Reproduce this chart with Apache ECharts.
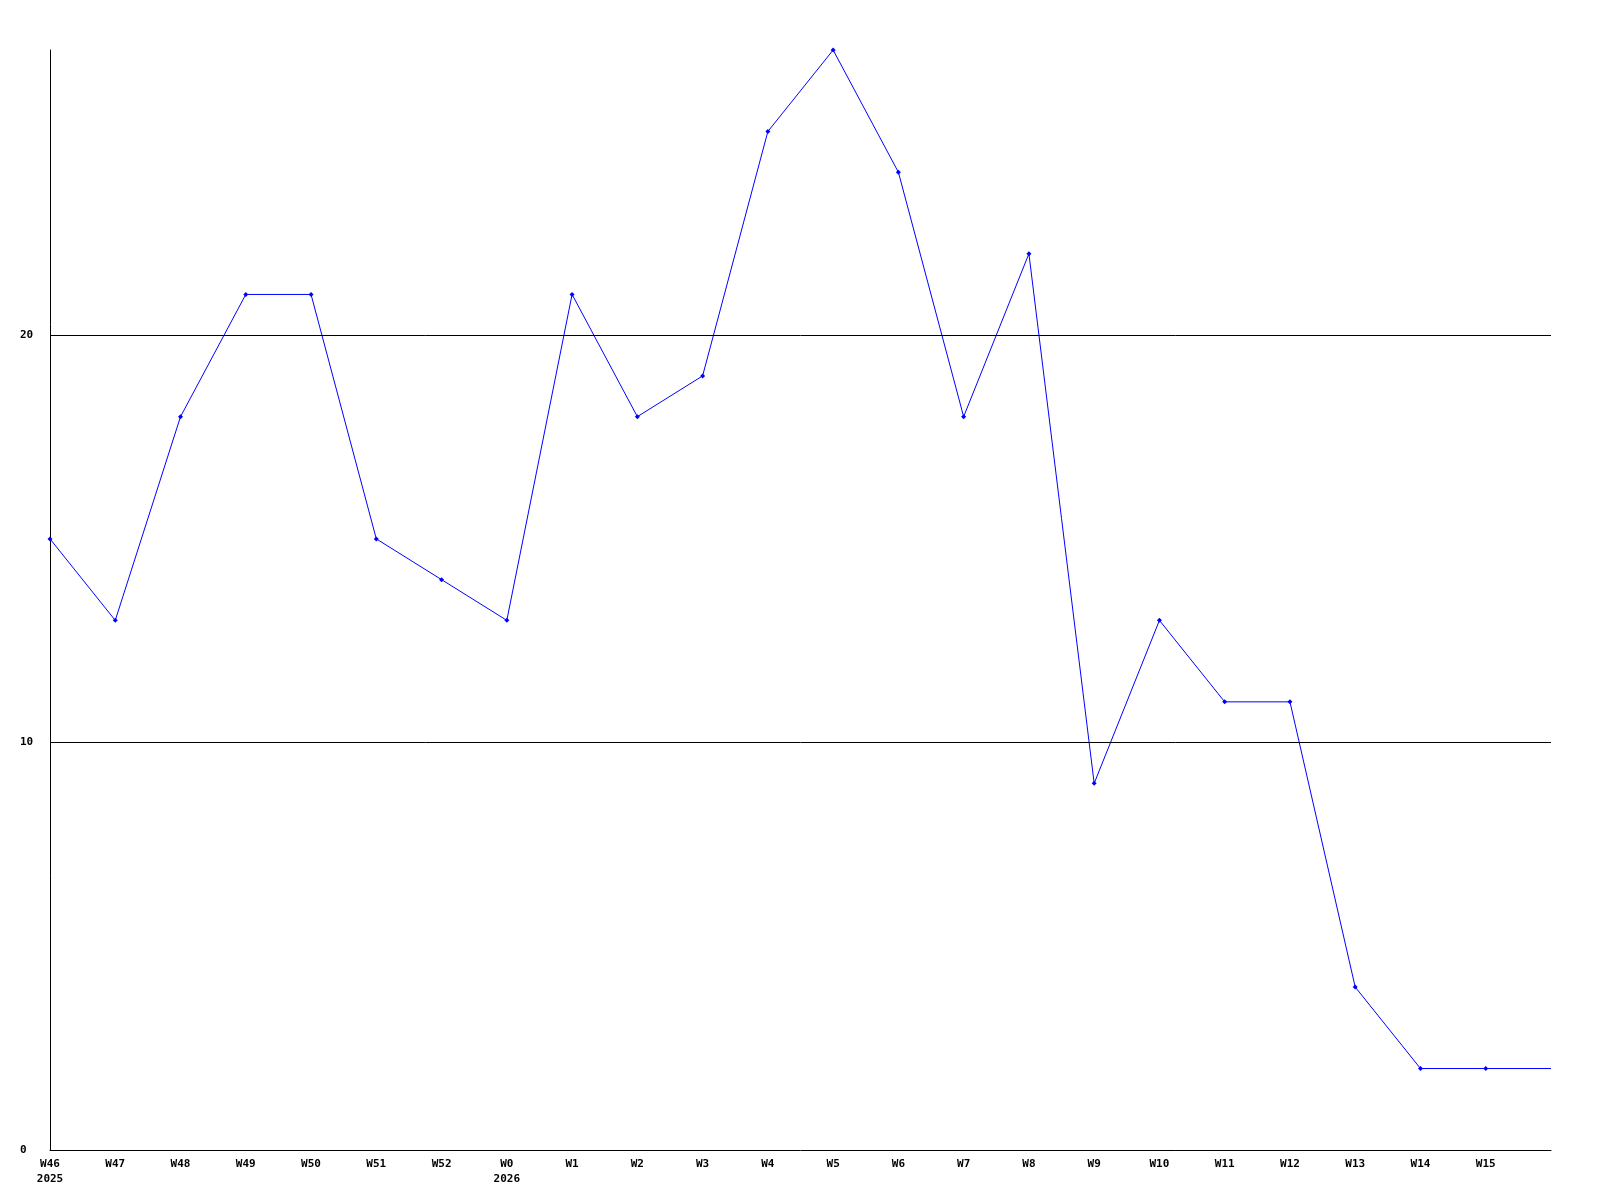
<!DOCTYPE html>
<html><head><meta charset="utf-8">
<script src="https://cdn.jsdelivr.net/npm/echarts@6/dist/echarts.min.js"></script>
<style>html,body{margin:0;padding:0;background:#fff}#c{width:1600px;height:1200px}</style>
</head><body><div id="c"></div>
<script>
const weeks = ['W46\n2025','W47','W48','W49','W50','W51','W52','W0\n2026','W1','W2','W3','W4','W5','W6','W7','W8','W9','W10','W11','W12','W13','W14','W15',''];
const values = [15,13,18,21,21,15,14,13,21,18,19,25,27,24,18,22,9,13,11,11,4,2,2,2];
const yTicks = [0,10,20];
const chart = echarts.init(document.getElementById('c'), null, {renderer:'canvas'});
const font = {fontFamily:'DejaVu Sans Mono', fontWeight:'bold', fontSize:11, color:'#000'};
const seriesData = values.map((v,i)=> i===values.length-1 ? {value:v, symbol:'none'} : v);
chart.setOption({
  animation:false,
  backgroundColor:'#fff',
  grid:{left:50,right:49,top:50,bottom:50},
  xAxis:{type:'category',data:weeks,boundaryGap:false,
    axisLine:{lineStyle:{color:'#000',width:1}},axisTick:{show:false},
    axisLabel:Object.assign({interval:0,margin:7,lineHeight:15},font),
    splitLine:{show:false}},
  yAxis:{type:'value',min:0,max:27,interval:10,
    axisLine:{show:true,lineStyle:{color:'#000',width:1}},axisTick:{show:false},
    axisLabel:Object.assign({margin:30,align:'left',showMaxLabel:false,
      formatter:v=>yTicks.includes(v)?String(v):''},font),
    splitLine:{show:false}},
  series:[{type:'line',data:seriesData,symbol:'diamond',symbolSize:5,
    lineStyle:{color:'#0000ff',width:1},itemStyle:{color:'#0000ff'},
    markLine:{silent:true,symbol:'none',label:{show:false},animation:false,
      lineStyle:{color:'#000',width:1,type:'solid'},
      data:yTicks.filter(t=>t>0).map(t=>({yAxis:t}))}}]
});
</script></body></html>
